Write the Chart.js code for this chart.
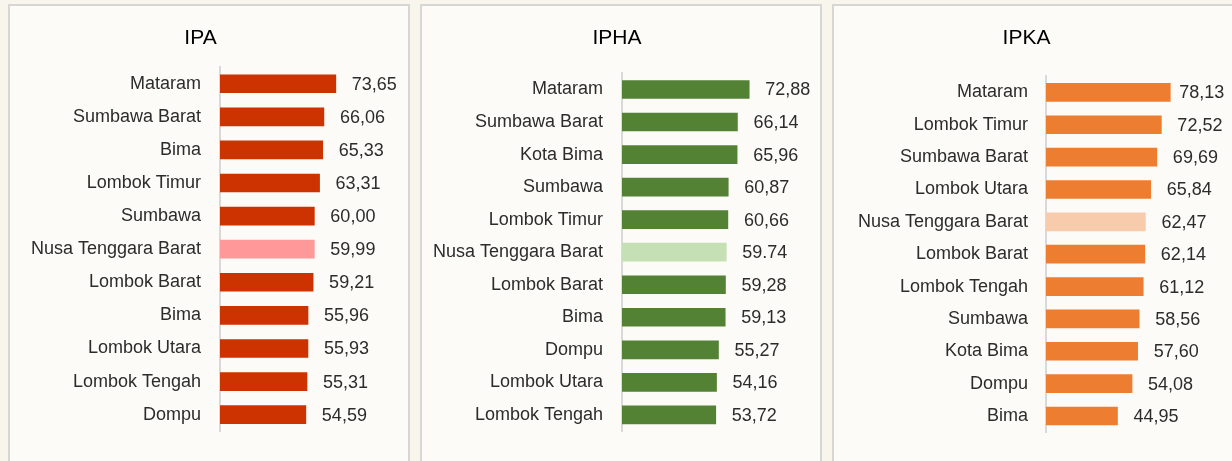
<!DOCTYPE html>
<html>
<head>
  <title>IPA / IPHA / IPKA</title>
  <style>
    body {
      margin: 0;
      background: #f8f6ec;
      width: 1232px;
      height: 461px;
      overflow: hidden;
      position: relative;
    }
    .panel {
      position: absolute;
      top: 4px;
      height: 470px;
      background: #fcfbf7;
      border: 2px solid #d6d6d4;
      box-sizing: border-box;
    }
    canvas {
      position: absolute;
      top: 4px;
    }
  </style>
  <script src="https://cdn.jsdelivr.net/npm/chart.js"></script>
</head>
<body>
  <div class="panel" style="left:8px; width:402px;"></div>
  <div class="panel" style="left:420px; width:402px;"></div>
  <div class="panel" style="left:832px; width:410px;"></div>

  <canvas id="ipa" width="402" height="457" style="left:8px;"></canvas>
  <canvas id="ipha" width="402" height="457" style="left:420px;"></canvas>
  <canvas id="ipka" width="400" height="457" style="left:832px;"></canvas>

  <script>
    // IPA
    const ipaLabels = ['Mataram', 'Sumbawa Barat', 'Bima', 'Lombok Timur', 'Sumbawa', 'Nusa Tenggara Barat',
      'Lombok Barat', 'Bima', 'Lombok Utara', 'Lombok Tengah', 'Dompu'];
    const ipaValues = [73.65, 66.06, 65.33, 63.31, 60.00, 59.99, 59.21, 55.96, 55.93, 55.31, 54.59];

    // IPHA
    const iphaLabels = ['Mataram', 'Sumbawa Barat', 'Kota Bima', 'Sumbawa', 'Lombok Timur', 'Nusa Tenggara Barat',
      'Lombok Barat', 'Bima', 'Dompu', 'Lombok Utara', 'Lombok Tengah'];
    const iphaValues = [72.88, 66.14, 65.96, 60.87, 60.66, 59.74, 59.28, 59.13, 55.27, 54.16, 53.72];

    // IPKA
    const ipkaLabels = ['Mataram', 'Lombok Timur', 'Sumbawa Barat', 'Lombok Utara', 'Nusa Tenggara Barat',
      'Lombok Barat', 'Lombok Tengah', 'Sumbawa', 'Kota Bima', 'Dompu', 'Bima'];
    const ipkaValues = [78.13, 72.52, 69.69, 65.84, 62.47, 62.14, 61.12, 58.56, 57.60, 54.08, 44.95];

    const provinceName = 'Nusa Tenggara Barat';
    const FONT = "'Liberation Sans', Arial, sans-serif";

    // draws the number at the end of each bar
    const valueLabels = {
      id: 'valueLabels',
      afterDatasetsDraw(chart, args, opts) {
        const ctx = chart.ctx;
        const ds = chart.data.datasets[0];
        const meta = chart.getDatasetMeta(0);
        const nudge = opts.nudge || {};
        ctx.save();
        ctx.font = '18px ' + FONT;
        ctx.fillStyle = '#2c2c2c';
        ctx.textAlign = 'left';
        ctx.textBaseline = 'middle';
        meta.data.forEach((bar, i) => {
          let txt = ds.data[i].toFixed(2);
          if (!(opts.dotAt || []).includes(i)) txt = txt.replace('.', ',');
          ctx.fillText(txt, bar.x + 16 + (nudge[i] || 0), bar.y + 1);
        });
        ctx.restore();
      }
    };

    function makeChart(id, title, labels, values, color, hiColor, cfg) {
      const colors = labels.map(l => l === provinceName ? hiColor : color);
      new Chart(document.getElementById(id), {
        type: 'bar',
        data: {
          labels: labels,
          datasets: [{
            data: values,
            backgroundColor: colors,
            barThickness: 18,
          }],
        },
        options: {
          indexAxis: 'y',
          responsive: false,
          animation: false,
          layout: {
            padding: { top: 0, left: 0, right: cfg.padRight, bottom: cfg.padBottom },
          },
          plugins: {
            legend: { display: false },
            tooltip: { enabled: false },
            title: {
              display: true,
              text: title,
              color: '#000',
              font: { family: FONT, size: 21, weight: 'normal' },
              padding: { top: 22, bottom: cfg.titleBottom },
            },
            valueLabels: { dotAt: cfg.dotAt, nudge: cfg.nudge },
          },
          scales: {
            x: {
              display: false,
              min: 0,
              max: 110,
            },
            y: {
              afterFit(scale) { scale.width = cfg.axisWidth; },
              grid: { display: false, drawTicks: false },
              border: { display: true, color: '#d9d9d9', width: 2 },
              ticks: {
                color: '#2c2c2c',
                padding: cfg.tickPad,
                font: { family: FONT, size: 18 },
              },
            },
          },
        },
        plugins: [valueLabels],
      });
    }

    makeChart('ipa', 'IPA', ipaLabels, ipaValues, '#cc3300', '#ff9999',
      { axisWidth: 212, tickPad: 19, padRight: 17, padBottom: 28, titleBottom: 16 });
    makeChart('ipha', 'IPHA', iphaLabels, iphaValues, '#548235', '#c5e0b4',
      { axisWidth: 202, tickPad: 19, padRight: 8, padBottom: 19, titleBottom: 22, dotAt: [5] });
    makeChart('ipka', 'IPKA', ipkaLabels, ipkaValues, '#ed7d31', '#f8cbad',
      { axisWidth: 214, tickPad: 18, padRight: 11, padBottom: 24, titleBottom: 25, nudge: { 0: -7 } });
  </script>
</body>
</html>
